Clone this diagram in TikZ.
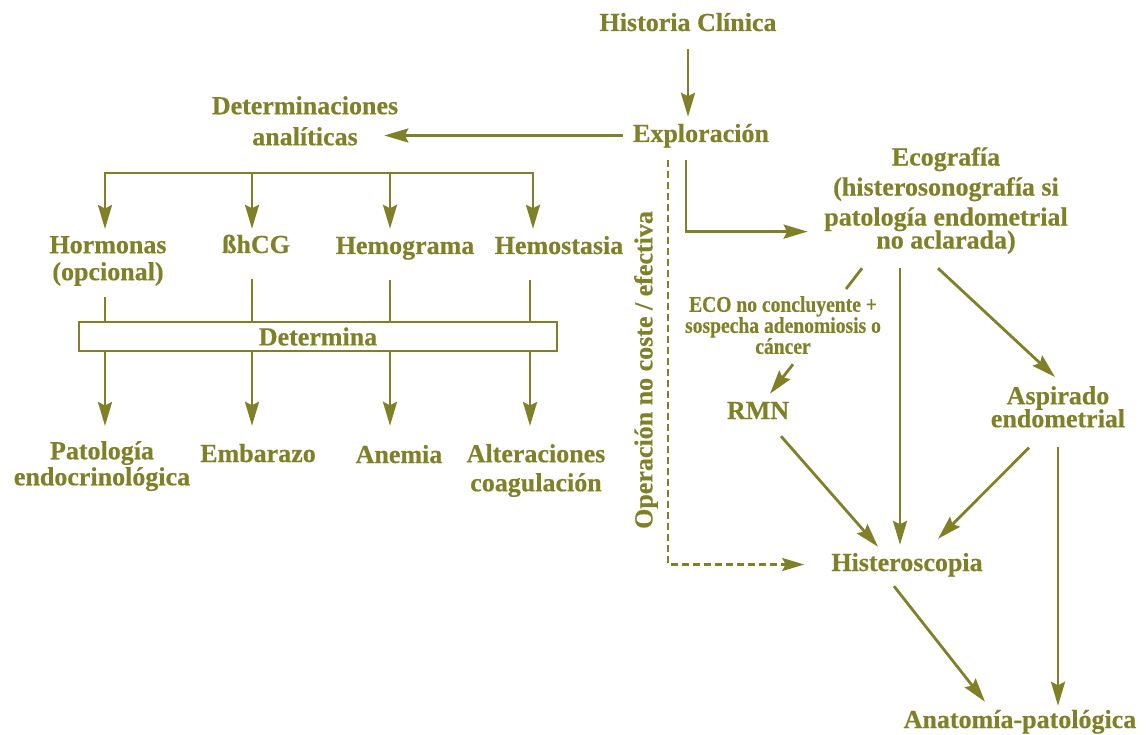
\documentclass[tikz,border=0pt]{standalone}
\usepackage{fontspec}
\setmainfont{Liberation Serif}[BoldFeatures={FakeBold=0.5}]
\newfontfamily\condfont{Liberation Serif}[FakeStretch=0.87,BoldFeatures={FakeBold=0.5}]
\usetikzlibrary{arrows.meta,calc}
\definecolor{oliv}{RGB}{128,128,40}
\newcommand\fsz[1]{\bfseries\fontsize{26}{#1}\selectfont}
\tikzset{
  lbl/.style={text=oliv, inner sep=0pt, align=center, font=\fsz{27}},
  one/.style={lbl, anchor=base, text height=19pt, text depth=6pt},
  multi/.style={text=oliv, inner sep=0pt, align=center, anchor=north, font=\fsz{#1}},
  conn/.style={draw=oliv, line width=2.8pt},
  arr/.style={conn, -{Stealth[length=24pt,width=14pt,inset=3.5pt]}},
  dsh/.style={draw=oliv, line width=2.3pt, dash pattern=on 7pt off 4pt,
    -{Stealth[length=22pt,width=13pt,inset=3.5pt]}},
  boxnode/.style={draw=oliv, line width=1.5pt, text=oliv, inner sep=0pt,
    minimum width=478pt, minimum height=29pt, font=\fsz{27}}
}
\begin{document}
\lineskiplimit=-50pt
\begin{tikzpicture}[x=1pt,y=-1pt]
\useasboundingbox (0,0) rectangle (1148,735);

% nodes
\node[one] (hist) at (688,31) {Historia Clínica};
\node[one] (expl) at (701,142) {Exploración};
\node[multi=31] (det) at (305,96) {Determinaciones\\analíticas};
\node[multi=27] (hor) at (108,236) {Hormonas\\(opcional)};
\node[one] (bhcg) at (256,253) {ßhCG};
\node[one] (hgr) at (405,254) {Hemograma};
\node[one] (hst) at (559,254) {Hemostasia};
\node[boxnode] (dm) at (318,336.5) {Determina};
\node[multi=26] (pat) at (102,441) {Patología\\endocrinológica};
\node[one] (emb) at (258,462) {Embarazo};
\node[one] (ane) at (399,463) {Anemia};
\node[multi=29] (alt) at (536,444) {Alteraciones\\coagulación};
\node[multi=30] (eco) at (946,147) {Ecografía\\(histerosonografía si\\patología endometrial\\[-7pt]no aclarada)};
\node[text=oliv, inner sep=0pt, align=center, anchor=north,
  font=\condfont\bfseries\fontsize{22.5}{21}\selectfont]
  (ecol) at (783,296) {ECO no concluyente +\\sospecha adenomiosis o\\cáncer};
\node[one] (rmn) at (758,419) {RMN};
\node[multi=23] (asp) at (1058,386) {Aspirado\\endometrial};
\node[one] (hys) at (907,571) {Histeroscopia};
\node[one] (ana) at (1020,728) {Anatomía-patológica};
\node[lbl, rotate=90] (op) at (646,370) {Operación no coste / efectiva};

% left branch
\draw[arr, shorten <=12pt, shorten >=6pt] (hist.south) -- (hist.south |- expl.north);
\draw[arr, shorten <=10pt, shorten >=-14pt] (expl.west) -- (expl.west -| det.east);

\coordinate (br1) at (105,173);
\coordinate (br2) at (252,173);
\coordinate (br3) at (390,173);
\coordinate (br4) at (533,173);
\draw[conn] ([xshift=-1.4pt]br1) -- ([xshift=1.4pt]br4);
\draw[arr, shorten >=7pt] (br1) -- (br1 |- hor.north);
\draw[arr, shorten >=5pt] (br2) -- (br2 |- bhcg.north);
\draw[arr, shorten >=6pt] (br3) -- (br3 |- hgr.north);
\draw[arr, shorten >=6pt] (br4) -- (br4 |- hst.north);

\draw[conn, shorten <=11pt] (br1 |- hor.south) -- (br1 |- dm.north);
\draw[conn, shorten <=20pt] (br2 |- bhcg.south) -- (br2 |- dm.north);
\draw[conn, shorten <=20pt] (br3 |- hgr.south) -- (br3 |- dm.north);
\draw[conn, shorten <=20pt] ([xshift=-3pt]br4 |- hst.south) -- ([xshift=-3pt]br4 |- dm.north);

\draw[arr, shorten >=15pt] (br1 |- dm.south) -- (br1 |- pat.north);
\draw[arr, shorten >=17pt] (br2 |- dm.south) -- (br2 |- emb.north);
\draw[arr, shorten >=18pt] (br3 |- dm.south) -- (br3 |- ane.north);
\draw[arr, shorten >=18pt] ([xshift=-3pt]br4 |- dm.south) -- ([xshift=-3pt]br4 |- alt.north);

% right branch
\draw[arr, shorten <=12pt] ([xshift=-15pt]expl.south) |- ($(eco.west)+(-16.5,31)$);
\draw[dsh, shorten <=12pt] ([xshift=-33pt]expl.south) |- ([xshift=-27pt]hys.west);

\draw[conn] ($(eco.south)+(-84,14)$) -- ($(ecol.north)+(63,-7)$);
\draw[arr] ($(ecol.south)+(10,10)$) -- ($(rmn.north)+(12,-6)$);
\draw[arr] ($(eco.south)+(-46,14)$) -- ($(hys.north)+(-7,-7)$);
\draw[arr] ($(eco.south)+(-8,14)$) -- ($(asp.north)+(-3,-9)$);
\draw[arr] ($(rmn.south)+(23,11)$) -- ($(hys.north)+(-29,-5)$);
\draw[arr] ($(asp.south)+(-29,20)$) -- ($(hys.north)+(31,-13)$);
\draw[arr, shorten <=19pt, shorten >=3pt] (asp.south) -- (asp.south |- ana.north);
\draw[arr] ($(hys.south)+(-13,9)$) -- ($(ana.north)+(-35,-7)$);
\end{tikzpicture}
\end{document}
